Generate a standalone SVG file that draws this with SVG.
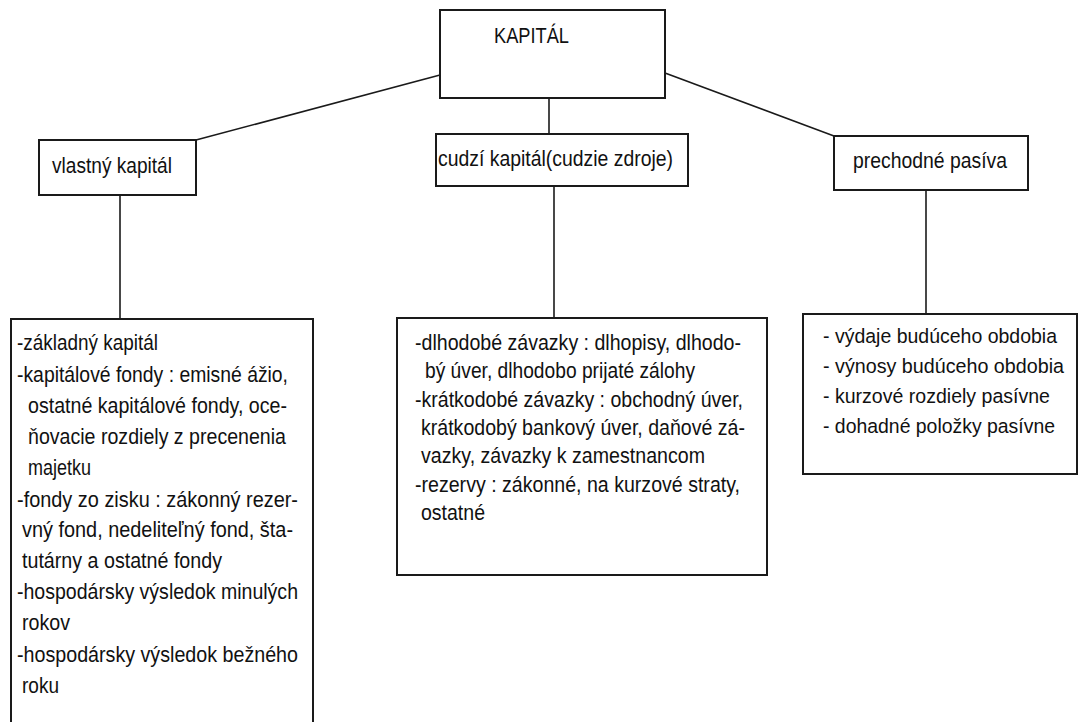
<svg xmlns="http://www.w3.org/2000/svg" width="1082" height="722" viewBox="0 0 1082 722">
<style>
.box{fill:#fff;stroke:#1a1a1a;stroke-width:2}
.con{stroke:#1a1a1a;stroke-width:1.6;fill:none}
text{font-family:"Liberation Sans",Arial,sans-serif;font-size:22px;fill:#111}
.sm{font-size:20.5px}
</style>
<rect width="1082" height="722" fill="#fff"/>
<g id="connectors">
<line class="con" x1="440" y1="75" x2="196" y2="140"/>
<line class="con" x1="665" y1="73" x2="834" y2="136"/>
<line class="con" x1="549" y1="98" x2="549" y2="134"/>
<line class="con" x1="120" y1="195" x2="120" y2="319"/>
<line class="con" x1="554" y1="186" x2="554" y2="318"/>
<line class="con" x1="926" y1="190" x2="926" y2="314"/>
</g>
<g id="kapital">
<rect class="box" x="440" y="10" width="225" height="88"/>
<text x="494" y="43" textLength="75" lengthAdjust="spacingAndGlyphs">KAPITÁL</text>
</g>
<g id="vlastny">
<rect class="box" x="39" y="140" width="157" height="55"/>
<text x="52" y="173" textLength="120" lengthAdjust="spacingAndGlyphs">vlastný kapitál</text>
</g>
<g id="cudzi">
<rect class="box" x="436" y="134" width="252" height="52"/>
<text x="438" y="166" textLength="235" lengthAdjust="spacingAndGlyphs">cudzí kapitál(cudzie zdroje)</text>
</g>
<g id="prechodne">
<rect class="box" x="834" y="136" width="194" height="54"/>
<text x="853" y="168" textLength="154" lengthAdjust="spacingAndGlyphs">prechodné pasíva</text>
</g>
<g id="vlastny-detail">
<rect class="box" x="11" y="319" width="302" height="420"/>
<text x="17" y="350" textLength="141" lengthAdjust="spacingAndGlyphs">-základný kapitál</text>
<text x="17" y="382" textLength="271" lengthAdjust="spacingAndGlyphs">-kapitálové fondy : emisné ážio,</text>
<text x="28" y="413" textLength="259" lengthAdjust="spacingAndGlyphs">ostatné kapitálové fondy, oce-</text>
<text x="28" y="444" textLength="258" lengthAdjust="spacingAndGlyphs">ňovacie rozdiely z precenenia</text>
<text x="28" y="475" textLength="63" lengthAdjust="spacingAndGlyphs">majetku</text>
<text x="17" y="507" textLength="281" lengthAdjust="spacingAndGlyphs">-fondy zo zisku : zákonný rezer-</text>
<text x="22" y="537" textLength="271" lengthAdjust="spacingAndGlyphs">vný fond, nedeliteľný fond, šta-</text>
<text x="22" y="568" textLength="200" lengthAdjust="spacingAndGlyphs">tutárny a ostatné fondy</text>
<text x="17" y="599" textLength="281" lengthAdjust="spacingAndGlyphs">-hospodársky výsledok minulých</text>
<text x="22" y="630" textLength="48" lengthAdjust="spacingAndGlyphs">rokov</text>
<text x="17" y="662" textLength="281" lengthAdjust="spacingAndGlyphs">-hospodársky výsledok bežného</text>
<text x="22" y="693" textLength="37" lengthAdjust="spacingAndGlyphs">roku</text>
</g>
<g id="cudzi-detail">
<rect class="box" x="397" y="318" width="370" height="257"/>
<text x="415" y="350" textLength="326" lengthAdjust="spacingAndGlyphs">-dlhodobé závazky : dlhopisy, dlhodo-</text>
<text x="425" y="378" textLength="270" lengthAdjust="spacingAndGlyphs">bý úver, dlhodobo prijaté zálohy</text>
<text x="415" y="407" textLength="328" lengthAdjust="spacingAndGlyphs">-krátkodobé závazky : obchodný úver,</text>
<text x="421" y="435" textLength="324" lengthAdjust="spacingAndGlyphs">krátkodobý bankový úver, daňové zá-</text>
<text x="421" y="463" textLength="284" lengthAdjust="spacingAndGlyphs">vazky, závazky k zamestnancom</text>
<text x="415" y="492" textLength="325" lengthAdjust="spacingAndGlyphs">-rezervy : zákonné, na kurzové straty,</text>
<text x="421" y="520" textLength="64" lengthAdjust="spacingAndGlyphs">ostatné</text>
</g>
<g id="prechodne-detail">
<rect class="box" x="803" y="314" width="274" height="160"/>
<text class="sm" x="823" y="343" textLength="234" lengthAdjust="spacingAndGlyphs">- výdaje budúceho obdobia</text>
<text class="sm" x="823" y="373" textLength="241" lengthAdjust="spacingAndGlyphs">- výnosy budúceho obdobia</text>
<text class="sm" x="823" y="403" textLength="227" lengthAdjust="spacingAndGlyphs">- kurzové rozdiely pasívne</text>
<text class="sm" x="823" y="433" textLength="232" lengthAdjust="spacingAndGlyphs">- dohadné položky pasívne</text>
</g>
</svg>
